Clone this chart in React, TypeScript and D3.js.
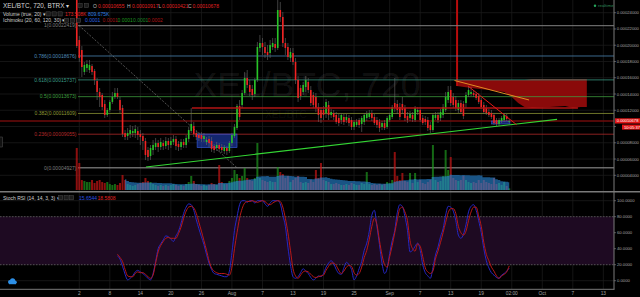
import React, { useEffect } from 'react';
import * as d3 from 'd3';

const W = 640;
const H = 297;
const PLOT_R = 614;
const START = Date.UTC(2017, 6, 1, 12);
const BAR_MS = 12 * 3600 * 1000;

// OHLC in satoshi (1e-8 BTC): [open, high, low, close]
const candles: number[][] = [
  [26800, 28000, 19660, 19900], [20640, 21130, 17940, 18430], [19410, 19900, 16090, 17320], [16710, 17940, 16340, 17570],
  [17200, 18180, 16710, 17690], [16950, 18180, 16580, 17570], [17440, 17690, 16340, 16710], [16830, 17080, 15110, 15720],
  [15600, 15970, 13260, 14250], [14250, 14740, 12400, 13630], [13880, 14120, 12030, 12400], [12770, 13260, 11050, 11420],
  [11420, 12280, 11170, 12030], [12030, 13260, 11790, 13020], [13020, 14250, 12770, 13630], [13630, 14740, 13390, 14120],
  [14120, 14740, 13390, 13630], [13260, 13630, 11660, 12030], [12280, 12650, 8710, 9080], [9200, 9570, 8340, 8710],
  [8830, 9820, 8340, 9200], [9080, 10190, 8590, 9570], [9200, 10060, 8710, 9450], [9200, 10190, 8590, 9700],
  [9450, 9940, 8340, 8960], [9080, 9570, 7730, 8710], [8830, 9200, 7110, 8220], [8220, 8590, 5880, 6500],
  [7110, 7480, 5760, 6250], [6370, 7730, 5880, 7360], [7110, 8340, 6500, 7730], [7480, 8590, 7110, 7970],
  [7970, 8340, 6870, 7480], [7480, 8590, 7110, 8100], [7970, 8340, 7110, 7600], [7600, 8710, 7240, 8220],
  [8220, 8590, 7110, 7730], [7730, 8710, 7360, 8220], [8100, 8960, 7730, 8470], [8470, 8830, 7110, 7600],
  [7850, 8220, 6990, 7480], [7480, 8470, 7110, 8100], [8100, 8470, 7360, 7730], [7730, 8960, 7360, 8590],
  [8470, 9940, 8100, 9570], [9450, 12280, 9200, 10310], [10060, 10560, 8710, 9080], [9200, 9570, 8340, 8710],
  [8960, 9330, 8220, 8590], [8960, 9330, 8100, 8470], [8470, 9200, 8100, 8830], [8100, 8710, 7730, 8340],
  [8470, 8830, 7480, 7970], [8220, 8710, 6870, 7240], [7600, 7850, 6740, 7110], [7360, 8100, 6990, 7730],
  [7730, 7970, 6870, 7240], [7480, 7850, 6740, 7110], [6990, 7730, 6620, 7480], [7360, 7600, 6500, 6990],
  [6990, 8220, 6740, 7970], [7970, 9200, 7600, 8960], [8830, 10310, 8590, 9940], [9820, 12770, 9570, 12520],
  [12520, 13260, 10800, 11170], [12650, 14490, 12280, 14120], [14120, 16710, 13880, 15970], [15970, 16950, 14740, 15110],
  [15110, 15720, 13750, 14250], [14620, 15110, 13260, 13880], [14000, 15970, 13630, 15720], [15720, 20400, 15480, 19780],
  [19660, 21260, 19170, 20270], [20270, 20890, 18800, 19780], [19780, 20400, 18430, 19040], [19170, 20030, 18180, 18800],
  [19040, 20640, 18430, 20030], [19780, 20890, 19410, 20270], [20150, 20890, 19170, 19660], [19660, 25560, 19410, 24330],
  [24330, 25320, 22860, 23470], [23470, 24090, 19780, 20270], [20270, 20890, 18800, 19660], [19780, 20270, 18180, 18550],
  [18430, 19660, 17940, 19170], [19040, 19660, 17570, 17940], [17940, 18430, 15230, 15720], [15720, 16210, 13020, 13510],
  [14740, 15110, 13260, 13750], [14250, 15480, 13880, 15110], [14860, 16210, 14250, 15720], [15480, 15970, 14120, 14490],
  [14490, 14980, 12520, 12890], [13880, 14250, 12280, 12650], [13630, 14120, 11790, 12280], [12400, 12890, 10560, 11420],
  [12030, 12400, 10430, 11050], [12030, 12520, 10800, 11420], [11660, 13390, 11050, 13020], [12650, 13140, 10800, 11420],
  [11420, 12160, 11050, 11790], [11660, 12030, 10800, 11170], [11420, 11790, 10310, 10560], [11050, 11540, 10060, 10430],
  [10800, 11660, 10310, 11420], [11170, 11540, 10190, 10560], [10800, 11540, 10430, 11170], [11050, 11420, 10060, 10430],
  [10800, 11170, 9570, 9940], [9940, 10800, 9570, 10560], [10190, 10930, 9940, 10560], [10800, 11050, 9820, 10190],
  [10310, 11290, 9330, 11050], [10560, 11660, 10190, 11420], [11050, 11910, 10680, 11540], [11170, 12030, 10930, 11660],
  [11660, 12030, 10680, 11050], [11170, 11540, 10190, 10430], [10800, 11170, 9820, 10190], [10560, 10930, 9330, 9820],
  [9940, 10680, 9570, 10430], [10430, 10800, 9570, 9820], [9940, 11290, 9700, 11050], [10800, 11660, 10560, 11420],
  [11170, 12650, 10930, 12400], [12890, 15970, 11790, 12280], [12770, 13260, 11540, 12030], [12400, 12890, 10800, 11170],
  [12770, 13630, 11540, 12030], [12280, 12650, 10680, 11050], [11290, 11790, 10430, 10800], [11050, 11910, 10680, 11540],
  [11420, 11790, 10560, 10930], [10800, 12520, 10560, 12280], [11790, 12400, 11420, 12030], [12030, 12400, 10560, 10800],
  [11050, 11420, 10190, 10430], [10930, 11290, 10190, 10560], [10800, 11170, 9450, 9820], [10190, 10560, 9200, 9570],
  [9570, 11660, 9330, 11420], [11050, 11790, 10800, 11420], [11420, 11790, 10430, 10800], [11050, 12160, 10680, 11790],
  [11420, 12770, 11050, 12400], [12030, 14250, 11790, 13630], [13260, 14980, 12890, 14250], [14490, 14980, 12520, 12890],
  [13630, 14120, 12280, 12650], [13260, 13750, 11910, 12280], [12030, 13260, 11660, 12890], [12890, 13260, 11540, 11790],
  [12770, 13140, 10930, 11290], [12890, 14250, 12280, 13880], [13880, 14980, 13630, 14490], [14000, 14860, 13750, 14250],
  [14120, 14490, 13630, 13880], [14000, 14250, 13260, 13510], [13750, 14120, 12770, 13020], [13260, 13510, 12160, 12400],
  [12650, 13020, 11540, 11790], [12280, 12650, 11420, 11660], [11790, 12160, 11170, 11420], [11660, 12030, 10930, 11170],
  [11420, 11660, 10190, 10430], [10800, 11050, 10060, 10310], [10310, 11050, 10060, 10800], [10680, 11290, 10430, 11050],
  [10800, 11660, 10560, 11420], [11290, 11540, 10680, 10930], [10655, 10917, 10421, 10678],
];

// volume, thousands
const volumes: number[] = [
  4370, 2810, 1040, 940, 830, 830, 1040, 730, 940, 1040, 830, 730, 830, 620, 520, 620, 520, 730, 1560, 1040,
  620, 520, 420, 520, 620, 730, 830, 1250, 940, 830, 620, 520, 420, 520, 420, 520, 420, 520, 620, 520,
  420, 520, 420, 620, 830, 1460, 940, 620, 520, 420, 520, 420, 520, 730, 620, 520, 2600, 830, 620, 620,
  940, 1250, 2080, 1660, 1250, 1460, 2290, 1250, 1040, 940, 1250, 4890, 1250, 1040, 940, 830, 940, 830, 830, 2390,
  1870, 1660, 1250, 1460, 830, 1040, 1250, 1460, 830, 730, 830, 730, 1040, 830, 2080, 1250, 2810, 1040, 940, 830,
  620, 620, 730, 620, 520, 520, 620, 520, 730, 620, 520, 520, 730, 620, 1870, 620, 520, 620, 520, 620,
  520, 620, 830, 730, 1040, 3950, 1460, 1040, 1770, 940, 830, 1770, 730, 1770, 830, 1040, 730, 620, 830, 1040,
  4680, 1040, 830, 940, 1460, 4160, 2080, 3430, 1250, 1040, 940, 1040, 1460, 1040, 830, 730, 830, 730, 1040, 730,
  1040, 830, 730, 620, 1250, 620, 730, 520, 830, 420, 173.508,
];
const VOL_MA_LEN = 20;

const STOCH_FROM = 16;
const stochK: number[] = [
  31, 27, 18, 8, 1, 3, 6, 11, 13, 11, 9, 6, 3, 1, 9, 24, 40, 46, 51, 56,
  55, 52, 49, 56, 62, 72, 84, 92, 96, 95, 88, 76, 65, 55, 45, 33, 22, 14, 9, 8,
  7, 6, 5, 5, 12, 35, 63, 80, 95, 100, 100, 98, 100, 100, 97, 100, 100, 100, 96, 93,
  97, 100, 100, 100, 96, 82, 68, 42, 20, 5, 3, 5, 10, 15, 12, 9, 4, 1, 3, 6,
  5, 9, 17, 22, 25, 21, 14, 9, 8, 16, 23, 20, 14, 1, 6, 15, 24, 38, 47, 62,
  82, 88, 68, 45, 22, 9, 15, 34, 50, 63, 85, 95, 93, 80, 63, 36, 38, 43, 47, 38,
  20, 10, 6, 3, 16, 32, 42, 55, 65, 82, 93, 92, 87, 75, 57, 53, 58, 70, 86, 93,
  95, 88, 75, 60, 40, 25, 16, 10, 7, 4, 3, 7, 9, 12, 15.6544,
];
const stochD: number[] = [
  33, 29, 24, 14, 6, 5, 5, 9, 11, 10, 10, 8, 5, 3, 7, 22, 36, 44, 49, 53,
  54, 53, 53, 53, 59, 67, 78, 87, 92, 93, 91, 84, 73, 62, 50, 38, 25, 16, 12, 10,
  9, 9, 9, 8, 7, 17, 40, 60, 78, 90, 97, 99, 99, 100, 99, 98, 99, 100, 99, 96,
  95, 97, 99, 100, 99, 92, 78, 60, 38, 15, 6, 3, 7, 11, 12, 11, 8, 5, 4, 5,
  6, 7, 13, 18, 22, 22, 19, 13, 9, 12, 17, 19, 18, 10, 7, 9, 17, 29, 38, 52,
  68, 78, 70, 50, 32, 20, 17, 30, 44, 60, 76, 90, 92, 86, 75, 50, 40, 37, 46, 43,
  30, 16, 11, 9, 12, 27, 37, 48, 60, 73, 85, 90, 90, 84, 68, 60, 57, 62, 75, 86,
  92, 92, 81, 68, 48, 33, 25, 17, 12, 6, 3, 6, 8, 11, 18.5808,
];

const priceTicks = [4000, 6000, 8000, 10000, 12000, 14000, 16000, 18000, 20000, 22000, 24000];
const stochTicks = [0, 20, 40, 60, 80, 100];
const timeTickDates: [number, number, number][] = [
  [2017, 6, 2], [2017, 6, 8], [2017, 6, 14], [2017, 6, 20], [2017, 6, 26], [2017, 7, 1], [2017, 7, 7], [2017, 7, 13],
  [2017, 7, 19], [2017, 7, 25], [2017, 8, 1], [2017, 8, 7], [2017, 8, 13], [2017, 8, 19], [2017, 8, 25], [2017, 9, 1],
  [2017, 9, 7], [2017, 9, 13],
];
const timeTickLabels = ['2', '8', '14', '20', '26', 'Aug', '7', '13', '19', '25', 'Sep', '7', '13', '19', '02:00', 'Oct', '7', '13'];

const fibLevels = [1, 0.786, 0.618, 0.5, 0.382, 0.236, 0];
const fibColors = ['#7c7c7c', '#4f8ab8', '#3a9c86', '#3f9f3f', '#8f9a35', '#b52a2a', '#7c7c7c'];
const FIB_HIGH = 22419;
const FIB_LOW = 4927;

// Ichimoku future cloud (bar index, span values in satoshi)
const cloudBars = [149.5, 155, 162, 168, 171, 173.5, 176, 179, 186, 192, 195, 198, 200.5];
const cloudTop = [15720, 15720, 15720, 15720, 15720, 15720, 15720, 15840, 15840, 15840, 15840, 15840, 15840];
const cloudBottom = [14980, 14740, 14490, 14250, 13630, 12890, 12400, 12280, 12400, 12520, 12280, 12400, 12400];
const cloudSpikeHigh = 28000;

// user drawings: [barIndex, price]
const trendGreen = [[27.2, 5021], [188.8, 10888]];
const trendOrange = [[148.5, 15660], [177.8, 13262]];
const trendRed = [[153.8, 14984], [172.9, 10224]];
const fibDiagonal = [[0.9, FIB_HIGH], [63, FIB_LOW]];
const boxes = [[47.3, 63, 9080, 7400], [163.1, 170.3, 10680, 10310]];
const resistance = [45.3, 197, 12278];

const LAST = { o: 10655, h: 10917, l: 10421, c: 10678 };

const FONT = "'Liberation Sans', Arial, Helvetica, sans-serif";

export default function App() {
  useEffect(() => {
    document.body.style.margin = '0';
    document.body.style.background = '#000';
  }, []);

  const x = d3.scaleUtc().domain([Date.UTC(2017, 6, 2), Date.UTC(2017, 9, 1)]).range([79.3, 542.3]);
  const bx = (i: number) => x(new Date(START + i * BAR_MS));
  const y = d3.scaleLinear().domain([4000, 24000]).range([175.3, 12.7]);
  const vy = d3.scaleLinear().domain([0, 4368]).range([190, 148]);
  const sy = d3.scaleLinear().domain([0, 100]).range([280.7, 200.7]);
  const fmt = (p: number) => (p * 1e-8).toFixed(8);

  const volMA: [number, number][] = [];
  for (let i = VOL_MA_LEN - 1; i < volumes.length; i++) {
    volMA.push([i, d3.mean(volumes.slice(i - VOL_MA_LEN + 1, i + 1)) as number]);
  }
  const maArea = d3.area<[number, number]>().curve(d3.curveStep).x(d => bx(d[0])).y0(190).y1(d => vy(d[1]));

  const cloudArea = d3.area<number>()
    .x((_, k) => bx(cloudBars[k]))
    .y0((_, k) => y(cloudBottom[k]))
    .y1((_, k) => y(cloudTop[k]));

  const stochLine = d3.line<number>().curve(d3.curveMonotoneX).x((_, k) => bx(k + STOCH_FROM)).y(v => sy(v));

  const tickX = timeTickDates.map(d => x(new Date(Date.UTC(d[0], d[1], d[2]))));

  const seg = (p: number[][]) => ({ x1: bx(p[0][0]), y1: y(p[0][1]), x2: bx(p[1][0]), y2: y(p[1][1]) });

  const icon = (ix: number, iy: number, key: string) => (
    <rect key={key} x={ix} y={iy} width={4.2} height={4.2} fill="#1c1c1c" stroke="#4a4a4a" strokeWidth={0.5} />
  );

  const lastY = y(LAST.c);

  return (
    <svg width={W} height={H} style={{ display: 'block', position: 'absolute', left: 0, top: 0, background: '#000' }} fontFamily={FONT}>
      <defs>
        <clipPath id="mainClip"><rect x={0} y={0} width={PLOT_R} height={191} /></clipPath>
        <clipPath id="stochClip"><rect x={0} y={193} width={PLOT_R} height={96} /></clipPath>
      </defs>
      <rect x={0} y={0} width={W} height={H} fill="#000" />

      {/* grid */}
      <g stroke="#1b1b1b" strokeWidth={0.8}>
        {tickX.map((tx, k) => <line key={'vg' + k} x1={tx} x2={tx} y1={0} y2={289} />)}
        {priceTicks.map(p => <line key={'hg' + p} x1={0} x2={PLOT_R} y1={y(p)} y2={y(p)} />)}
        {stochTicks.map(v => <line key={'sg' + v} x1={0} x2={PLOT_R} y1={sy(v)} y2={sy(v)} />)}
      </g>

      {/* watermark */}
      <text x={307} y={97} fontSize={35.5} textAnchor="middle" fill="rgba(255,255,255,0.085)">XEL/BTC, 720</text>
      <text x={286} y={118} fontSize={10} textAnchor="middle" fill="rgba(255,255,255,0.06)">XEL/BTC</text>

      <g clipPath="url(#mainClip)">
        {/* ichimoku cloud */}
        <path d={cloudArea(cloudBars) || ''} fill="#8a0a0a" />
        <line x1={bx(cloudBars[0])} x2={bx(cloudBars[0])} y1={y(cloudSpikeHigh)} y2={y(cloudBottom[0])} stroke="#b80c0c" strokeWidth={2} />

        {/* fib lines */}
        {fibLevels.map((lv, k) => {
          const p = FIB_LOW + lv * (FIB_HIGH - FIB_LOW);
          return <line key={'fib' + k} x1={bx(0.5)} x2={PLOT_R} y1={y(p)} y2={y(p)} stroke={fibColors[k]} strokeWidth={lv === 1 || lv === 0 ? 1.3 : 0.9} opacity={0.85} />;
        })}

        {/* current price line */}
        <line x1={0} x2={PLOT_R} y1={lastY} y2={lastY} stroke="#6e0b0b" strokeWidth={1.3} />

        {/* volume */}
        {volumes.map((v, i) => {
          const c = candles[i];
          const up = c[3] >= c[0];
          return <rect key={'v' + i} x={bx(i) - 1} width={2} y={vy(v)} height={190 - vy(v)} fill={up ? 'rgba(30,150,30,0.7)' : 'rgba(200,22,22,0.7)'} />;
        })}
        <path d={maArea(volMA) || ''} fill="rgba(40,135,215,0.62)" />

        {/* fib diagonal */}
        <line {...seg(fibDiagonal)} stroke="#8a8a8a" strokeWidth={0.6} strokeDasharray="2,1.5" />

        {/* boxes */}
        {boxes.map((b, k) => (
          <rect key={'box' + k} x={bx(b[0])} width={bx(b[1]) - bx(b[0])} y={y(b[2])} height={y(b[3]) - y(b[2])} fill="rgba(35,70,200,0.55)" stroke="rgba(60,100,235,0.9)" strokeWidth={0.6} />
        ))}

        {/* candles */}
        {candles.map((c, i) => {
          const [o, h, l, cl] = c;
          const up = cl >= o;
          const top = y(Math.max(o, cl));
          const bh = Math.max(0.7, Math.abs(y(o) - y(cl)));
          return (
            <g key={'c' + i}>
              <line x1={bx(i)} x2={bx(i)} y1={y(h)} y2={y(l)} stroke="#6a6a6a" strokeWidth={0.6} />
              <rect x={bx(i) - 0.8} width={1.6} y={top} height={bh} fill={up ? '#27c427' : '#f02222'} />
            </g>
          );
        })}

        {/* resistance line */}
        <line x1={bx(resistance[0])} x2={bx(resistance[1])} y1={y(resistance[2])} y2={y(resistance[2])} stroke="#b31414" strokeWidth={1.5} />

        {/* trend lines */}
        <line {...seg(trendGreen)} stroke="#34d634" strokeWidth={1.2} />
        <line {...seg(trendOrange)} stroke="#e08c24" strokeWidth={1} />
        <line {...seg(trendRed)} stroke="#e41818" strokeWidth={1} />
      </g>

      {/* fib labels */}
      {fibLevels.map((lv, k) => {
        const p = FIB_LOW + lv * (FIB_HIGH - FIB_LOW);
        return <text key={'fl' + k} x={76.5} y={y(p) + 1.8} fontSize={5} textAnchor="end" fill={fibColors[k]}>{`${lv}(${fmt(p)})`}</text>;
      })}

      {/* stoch pane */}
      <rect x={0} y={sy(80)} width={PLOT_R} height={sy(20) - sy(80)} fill="#1e0a22" />
      <line x1={0} x2={PLOT_R} y1={sy(80)} y2={sy(80)} stroke="#6c6c6c" strokeWidth={0.7} strokeDasharray="1.5,1.5" />
      <line x1={0} x2={PLOT_R} y1={sy(20)} y2={sy(20)} stroke="#6c6c6c" strokeWidth={0.7} strokeDasharray="1.5,1.5" />
      <g clipPath="url(#stochClip)">
        <path d={stochLine(stochK) || ''} fill="none" stroke="#2626c4" strokeWidth={1} />
        <path d={stochLine(stochD) || ''} fill="none" stroke="#b81818" strokeWidth={1} />
      </g>

      {/* separators and axes */}
      <line x1={0} x2={W} y1={191.8} y2={191.8} stroke="#7a7a7a" strokeWidth={1.5} />
      <line x1={0} x2={PLOT_R + 0.5} y1={289.3} y2={289.3} stroke="#7a7a7a" strokeWidth={1} />
      <line x1={PLOT_R} x2={PLOT_R} y1={0} y2={289.3} stroke="#7a7a7a" strokeWidth={1} />

      {/* price axis (labels under the last-price badges are hidden, as in the reference) */}
      {priceTicks.map(p => (
        <g key={'pt' + p}>
          <line x1={PLOT_R} x2={PLOT_R + 2} y1={y(p)} y2={y(p)} stroke="#8a8a8a" strokeWidth={0.6} />
          {Math.abs(y(p) - (lastY + 3)) > 8 && (
            <text x={616.8} y={y(p) + 1.5} fontSize={4.2} fill="#a5a5a5">{fmt(p)}</text>
          )}
        </g>
      ))}
      <rect x={PLOT_R + 1} y={lastY - 2.7} width={W - PLOT_R - 1} height={5.2} fill="#e01515" />
      <text x={616.8} y={lastY + 1.4} fontSize={4.1} fill="#fff">{fmt(LAST.c)}</text>
      <rect x={622} y={lastY + 3.6} width={18} height={5} fill="#e01515" />
      <text x={624} y={lastY + 7.5} fontSize={4.1} fill="#fff">10:05:37</text>

      {stochTicks.map(v => (
        <g key={'st' + v}>
          <line x1={PLOT_R} x2={PLOT_R + 2} y1={sy(v)} y2={sy(v)} stroke="#8a8a8a" strokeWidth={0.6} />
          <text x={617} y={sy(v) + 1.5} fontSize={4.2} fill="#a5a5a5">{v.toFixed(4)}</text>
        </g>
      ))}

      {/* time axis */}
      {tickX.map((tx, k) => (
        <text key={'tl' + k} x={tx} y={295.3} fontSize={4.8} textAnchor="middle" fill="#a0a0a0">{timeTickLabels[k]}</text>
      ))}

      {/* header legends */}
      <text x={3} y={8} fontSize={6.4} fill="#d6d6d6">XEL/BTC, 720, BTRX ▾</text>
      {icon(78, 3.4, 'i1')}{icon(84.5, 3.4, 'i2')}
      <text y={8} fontSize={5}>
        <tspan x={93} fill="#b8b8b8">O</tspan><tspan x={98} fill="#e02020">{fmt(LAST.o)}</tspan>
        <tspan x={127} fill="#b8b8b8">H</tspan><tspan x={132} fill="#e02020">{fmt(LAST.h)}</tspan>
        <tspan x={158.5} fill="#b8b8b8">L</tspan><tspan x={162} fill="#e02020">{fmt(LAST.l)}</tspan>
        <tspan x={188} fill="#b8b8b8">C</tspan><tspan x={192.5} fill="#e02020">{fmt(LAST.c)}</tspan>
      </text>

      <text x={3} y={15.8} fontSize={5} fill="#cfcfcf">Volume (true, 20) ▾</text>
      {icon(46, 11.8, 'v1')}{icon(52, 11.8, 'v2')}{icon(58, 11.8, 'v3')}
      <text x={65} y={15.8} fontSize={5} fill="#e02020">{volumes[volumes.length - 1].toFixed(3) + 'K'}</text>
      <text x={88} y={15.8} fontSize={5} fill="#2f7fe0">{volMA[volMA.length - 1][1].toFixed(3) + 'K'}</text>

      <text x={3} y={22.3} fontSize={5} fill="#cfcfcf">Ichimoku (20, 60, 120, 30) ▾</text>
      {icon(64.5, 18.3, 'k1')}{icon(70.5, 18.3, 'k2')}{icon(76.5, 18.3, 'k3')}
      <text y={22.3} fontSize={5}>
        <tspan x={85} fill="#2a62e0">0.0001</tspan>
        <tspan x={102.5} fill="#a01515">0.0001</tspan>
        <tspan x={117.5} fill="#1f9a1f">0.0001</tspan>
        <tspan x={133} fill="#1f8a2a">0.0001</tspan>
        <tspan x={147.5} fill="#b01515">0.0002</tspan>
      </text>

      <circle cx={595} cy={5.7} r={1.2} fill="#26a65b" />
      <text x={598} y={7.3} fontSize={4.4} fill="#2e8b57">realtime</text>

      <text x={3} y={199.6} fontSize={5} fill="#cfcfcf">Stoch RSI (14, 14, 3, 3) ▾</text>
      {icon(58.5, 195.6, 's1')}{icon(64, 195.6, 's2')}{icon(69.5, 195.6, 's3')}
      <text x={79} y={199.6} fontSize={5} fill="#2a4ee0">{stochK[stochK.length - 1].toFixed(4)}</text>
      <text x={97.5} y={199.6} fontSize={5} fill="#e02020">{stochD[stochD.length - 1].toFixed(4)}</text>

      {/* small left tab and cloud icon */}
      <rect x={-1} y={137} width={3.5} height={10} fill="#111" stroke="#555" strokeWidth={0.5} />
      <g fill="#2d8fe6">
        <circle cx={10} cy={282} r={2} />
        <circle cx={12.6} cy={280.8} r={2.6} />
        <circle cx={15} cy={282.3} r={1.8} />
        <rect x={9} y={282} width={7} height={2.2} />
      </g>
    </svg>
  );
}
